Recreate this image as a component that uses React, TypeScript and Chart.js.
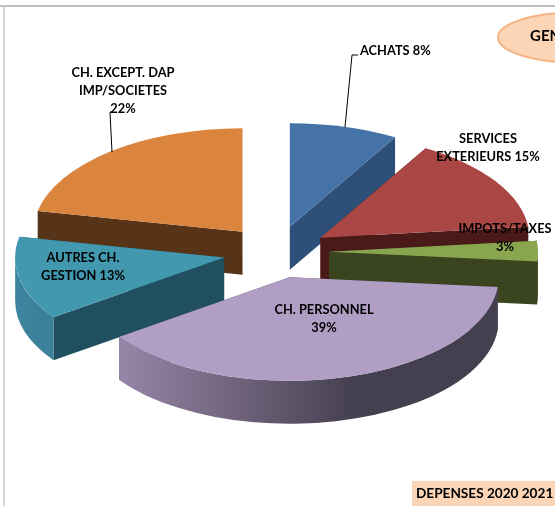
import React, { useEffect, useRef } from "react";
import { Chart, registerables } from "chart.js";

Chart.register(...registerables);

const categories = ["ACHATS", "SERVICES EXTERIEURS", "IMPOTS/TAXES", "CH. PERSONNEL", "AUTRES CH. GESTION", "CH. EXCEPT. DAP IMP/SOCIETES"];
const values = [8.4, 14.9, 3.2, 38.7, 13, 21.8];
const topColors = ["#4572a7", "#aa4643", "#89a54e", "#b09ec5", "#4198af", "#db843d"];
const cutColors = ["#2e4f78", "#4a1a18", "#3a4520", "#45404f", "#205060", "#573318"];
const wallLeft = ["#2e4f78", "#4a1a18", "#3a4520", "#9886a8", "#3d84a0", "#573318"];
const wallRight = ["#2e4f78", "#4a1a18", "#3a4520", "#45404f", "#3b8199", "#573318"];

const RADIUS = 209;
const EXPLODE = 53;
const SQUASH = 0.495;
const DEPTH = 43;
const FONT = "Lato, Carlito, sans-serif";

const labelBlocks: { lines: string[]; x: number; y: number; align: CanvasTextAlign }[] = [
  { lines: ["ACHATS 8%"], x: 360, y: 51, align: "left" },
  { lines: ["SERVICES", "EXTERIEURS 15%"], x: 488, y: 139, align: "center" },
  { lines: ["IMPOTS/TAXES", "3%"], x: 505, y: 229, align: "center" },
  { lines: ["CH. PERSONNEL", "39%"], x: 324, y: 310, align: "center" },
  { lines: ["AUTRES CH.", "GESTION 13%"], x: 83, y: 258, align: "center" },
  { lines: ["CH. EXCEPT. DAP", "IMP/SOCIETES", "22%"], x: 123, y: 73, align: "center" },
];

const leaderLines = [
  [[345, 127], [352, 55], [358, 55]],
  [[112, 152], [110, 112], [113, 112]],
];

const pie3d = {
  id: "pie3d",
  beforeDatasetsDraw(chart: any) {
    const { ctx } = chart;
    const arcs = chart.getDatasetMeta(0).data.map((arc: any, i: number) => {
      const { x, y, startAngle, endAngle, outerRadius } = arc.getProps(["x", "y", "startAngle", "endAngle", "outerRadius"], true);
      const mid = (startAngle + endAngle) / 2;
      const ax = x + Math.cos(mid) * EXPLODE;
      const ay = y + Math.sin(mid) * EXPLODE * SQUASH;
      return { i, s: startAngle, e: endAngle, r: outerRadius, ax, ay };
    });
    arcs.sort((a: any, b: any) => a.ay - b.ay);
    for (const { i, s, e, r, ax, ay } of arcs) {
      const ry = r * SQUASH;
      const px = (t: number) => ax + Math.cos(t) * r;
      const py = (t: number) => ay + Math.sin(t) * ry;
      // cut faces
      ctx.fillStyle = cutColors[i];
      for (const t of [s, e]) {
        ctx.beginPath();
        ctx.moveTo(ax, ay);
        ctx.lineTo(px(t), py(t));
        ctx.lineTo(px(t), py(t) + DEPTH);
        ctx.lineTo(ax, ay + DEPTH);
        ctx.closePath();
        ctx.fill();
      }
      // outer wall, front half only
      const ws = Math.max(s, 0);
      const we = Math.min(e, Math.PI);
      if (ws < we) {
        const g = ctx.createLinearGradient(Math.min(px(ws), px(we)), 0, Math.max(px(ws), px(we)), 0);
        g.addColorStop(0, wallLeft[i]);
        g.addColorStop(0.62, wallRight[i]);
        g.addColorStop(1, wallRight[i]);
        ctx.fillStyle = g;
        ctx.beginPath();
        ctx.moveTo(px(ws), py(ws));
        ctx.ellipse(ax, ay, r, ry, 0, ws, we);
        ctx.lineTo(px(we), py(we) + DEPTH);
        ctx.ellipse(ax, ay + DEPTH, r, ry, 0, we, ws, true);
        ctx.closePath();
        ctx.fill();
      }
      // top face
      ctx.fillStyle = chart.data.datasets[0].backgroundColor[i];
      ctx.beginPath();
      ctx.moveTo(ax, ay);
      ctx.ellipse(ax, ay, r, ry, 0, s, e);
      ctx.closePath();
      ctx.fill();
    }
    return false;
  },
  afterDraw(chart: any) {
    const { ctx } = chart;
    ctx.save();
    // frame
    ctx.fillStyle = "#bfbfbf";
    ctx.fillRect(0, 5, 555, 2);
    ctx.fillStyle = "#d9d9d9";
    ctx.fillRect(3, 7, 2, 499);
    // title ellipse
    ctx.beginPath();
    ctx.ellipse(576, 37.5, 78, 25, 0, 0, Math.PI * 2);
    ctx.fillStyle = "#fbd5b5";
    ctx.fill();
    ctx.strokeStyle = "#f5b483";
    ctx.lineWidth = 2;
    ctx.stroke();
    ctx.fillStyle = "#000";
    ctx.textBaseline = "middle";
    ctx.textAlign = "left";
    ctx.font = `bold 15px ${FONT}`;
    ctx.fillText("GENERAL", 530, 36);
    // bottom box
    ctx.fillStyle = "#fbd5b5";
    ctx.fillRect(412, 481, 143, 25);
    ctx.fillStyle = "#000";
    ctx.font = `bold 13.6px ${FONT}`;
    ctx.fillText("DEPENSES 2020 2021", 416, 494);
    // leaders
    ctx.strokeStyle = "#000";
    ctx.lineWidth = 1;
    for (const line of leaderLines) {
      ctx.beginPath();
      line.forEach(([x, y], n) => (n ? ctx.lineTo(x, y) : ctx.moveTo(x, y)));
      ctx.stroke();
    }
    // labels
    ctx.font = `bold 12.8px ${FONT}`;
    for (const b of labelBlocks) {
      ctx.textAlign = b.align;
      b.lines.forEach((t, n) => ctx.fillText(t, b.x, b.y + n * 18));
    }
    ctx.restore();
  },
};

export default function App() {
  const ref = useRef<HTMLCanvasElement>(null);
  useEffect(() => {
    const chart = new Chart(ref.current!, {
      type: "pie",
      data: {
        labels: categories,
        datasets: [{ data: values, backgroundColor: topColors, borderWidth: 0, radius: RADIUS }],
      },
      options: {
        animation: false,
        responsive: false,
        layout: { padding: { right: 3, bottom: 2 } },
        plugins: { legend: { display: false }, tooltip: { enabled: false } },
      },
      plugins: [pie3d],
    } as any);
    return () => chart.destroy();
  }, []);
  return (
    <canvas
      ref={ref}
      width={555}
      height={506}
      style={{ position: "fixed", left: 0, top: 0, display: "block", background: "#fff" }}
    />
  );
}
